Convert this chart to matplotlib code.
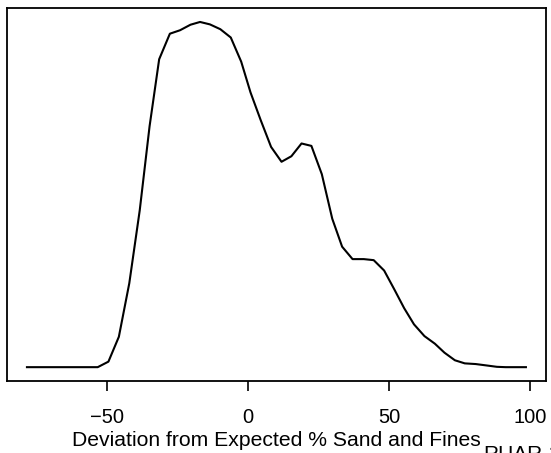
import matplotlib
matplotlib.use("Agg")
import matplotlib.pyplot as plt

plt.rcParams['font.family'] = ['Liberation Sans', 'DejaVu Sans']

# frequency polygon (relative height, peak = 1)
deviation = [-78.4, -53.3, -49.5, -45.8, -42.1, -38.4, -34.9, -31.5, -27.7, -24.1,
             -20.4, -17.0, -13.5, -9.8, -6.1, -2.4, 0.9, 4.5, 8.2, 11.9,
             15.4, 19.0, 22.5, 26.2, 29.9, 33.4, 37.1, 41.1, 44.6, 48.3,
             52.0, 55.4, 58.9, 62.6, 66.3, 69.7, 73.4, 76.9, 80.8, 84.6,
             88.3, 91.4, 98.6]
density = [0.0, 0.0, 0.016, 0.088, 0.243, 0.454, 0.698, 0.892, 0.966, 0.976,
           0.992, 1.0, 0.993, 0.979, 0.955, 0.885, 0.796, 0.716, 0.638, 0.595,
           0.611, 0.648, 0.641, 0.559, 0.430, 0.349, 0.313, 0.313, 0.310, 0.280,
           0.224, 0.171, 0.124, 0.090, 0.068, 0.042, 0.020, 0.011, 0.009, 0.005,
           0.001, 0.0, 0.0]
xticks = [-50, 0, 50, 100]

fig = plt.figure(figsize=(5.51, 4.53), dpi=100)
ax = fig.add_axes([0.0127, 0.159, 0.978, 0.823])
ax.plot(deviation, density, color='black', lw=1.5)

xr = max(deviation) - min(deviation)
ax.set_xlim(min(deviation) - 0.04 * xr, max(deviation) + 0.04 * xr)
ax.set_ylim(-0.04, 1.04)
ax.set_xticks(xticks)
ax.set_xticklabels(['\u2212' + str(-t) if t < 0 else str(t) for t in xticks])
ax.set_yticks([])
ax.tick_params(axis='x', length=7, width=1.2, labelsize=14.5, pad=12.5)
for s in ax.spines.values():
    s.set_linewidth(1.3)
ax.set_xlabel('Deviation from Expected % Sand and Fines', fontsize=15.2, labelpad=3)

fig.text(483 / 551, 1 - 445 / 453, 'RUAR-2', fontsize=15, va='top', ha='left')

fig.savefig('out.png', dpi=100)
